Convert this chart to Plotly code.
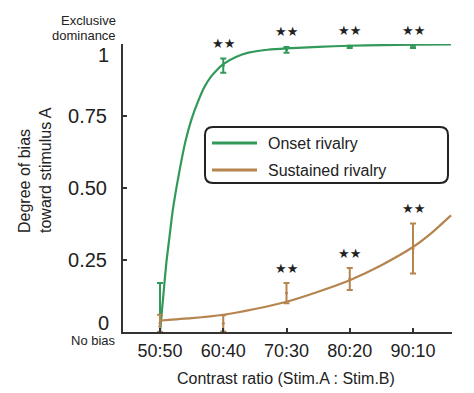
import plotly.graph_objects as go

# ---------------- data ----------------
categories = ["50:50", "60:40", "70:30", "80:20", "90:10"]

onset_mean = [0.02, 0.925, 0.98, 0.99, 0.99]
onset_err_plus = [0.15, 0.025, 0.01, 0.004, 0.004]
onset_err_minus = [0.02, 0.025, 0.01, 0.004, 0.004]

sustained_mean = [0.03, 0.03, 0.135, 0.184, 0.29]
sustained_err_plus = [0.03, 0.028, 0.035, 0.038, 0.087]
sustained_err_minus = [0.03, 0.028, 0.035, 0.038, 0.087]

# fitted curves (x in category steps from 50:50)
onset_fit_x = [0, 0.05, 0.1, 0.15, 0.2, 0.3, 0.4, 0.5, 0.6, 0.7, 0.8, 0.9, 1.0,
               1.2, 1.4, 1.7, 2.0, 2.5, 3.0, 3.5, 4.0, 4.6]
onset_fit_y = [0, 0.12, 0.24, 0.33, 0.42, 0.55, 0.66, 0.74, 0.80, 0.85, 0.885,
               0.91, 0.93, 0.955, 0.97, 0.98, 0.985, 0.99, 0.994, 0.996, 0.998, 0.999]

sustained_fit_x = [0, 0.5, 1.0, 1.5, 2.0, 2.5, 3.0, 3.5, 4.0, 4.3, 4.6]
sustained_fit_y = [0.04, 0.048, 0.06, 0.08, 0.105, 0.14, 0.18, 0.232, 0.295, 0.345, 0.405]

onset_sig = [False, True, True, True, True]
sustained_sig = [False, False, True, True, True]

y_tick_vals = [0, 0.25, 0.5, 0.75, 1]
y_tick_text = ["0", "0.25", "0.50", "0.75", "1"]

legend_names = ["Onset rivalry", "Sustained rivalry"]

# ---------------- style ----------------
GREEN = "#33995a"
BROWN = "#b5844f"
INK = "#222222"
FONT = "Liberation Sans, Arial, sans-serif"

W, H = 474, 393
ML, MR, MT, MB = 123, 22, 44, 61
PW, PH = W - ML - MR, H - MT - MB

def px_to_paper(px, py):
    return (px - ML) / PW, (H - MB - py) / PH

xs = list(range(len(categories)))

fig = go.Figure()

fig.add_trace(go.Scatter(x=onset_fit_x, y=onset_fit_y, mode="lines",
                         line=dict(color=GREEN, width=2.2, shape="spline", smoothing=0.6),
                         showlegend=False, cliponaxis=False, hoverinfo="skip"))
fig.add_trace(go.Scatter(x=sustained_fit_x, y=sustained_fit_y, mode="lines",
                         line=dict(color=BROWN, width=2.2, shape="spline", smoothing=0.6),
                         showlegend=False, cliponaxis=False, hoverinfo="skip"))

fig.add_trace(go.Scatter(x=xs, y=onset_mean, mode="markers",
                         marker=dict(color=GREEN, size=3),
                         error_y=dict(type="data", symmetric=False, array=onset_err_plus,
                                      arrayminus=onset_err_minus, color=GREEN,
                                      thickness=2, width=3),
                         showlegend=False, cliponaxis=False))
fig.add_trace(go.Scatter(x=xs, y=sustained_mean, mode="markers",
                         marker=dict(color=BROWN, size=3),
                         error_y=dict(type="data", symmetric=False, array=sustained_err_plus,
                                      arrayminus=sustained_err_minus, color=BROWN,
                                      thickness=2, width=3),
                         showlegend=False, cliponaxis=False))

annotations = []
STAR_FONT = dict(family="DejaVu Sans", size=13, color=INK)
for i in xs:
    if onset_sig[i]:
        annotations.append(dict(x=i, y=onset_mean[i] + onset_err_plus[i], text="★★",
                                showarrow=False, yshift=15, yanchor="middle", font=STAR_FONT))
    if sustained_sig[i]:
        annotations.append(dict(x=i, y=sustained_mean[i] + sustained_err_plus[i], text="★★",
                                showarrow=False, yshift=15, yanchor="middle", font=STAR_FONT))

# end tick labels "1" and "0" sit slightly inside the axis ends
ax, _ = px_to_paper(111, 0)
annotations.append(dict(xref="paper", x=ax, y=y_tick_vals[-1], text=y_tick_text[-1],
                        xanchor="right", yanchor="middle", yshift=-11, showarrow=False,
                        font=dict(family=FONT, size=20, color=INK)))
annotations.append(dict(xref="paper", x=ax, y=y_tick_vals[0], text=y_tick_text[0],
                        xanchor="right", yanchor="middle", yshift=9, showarrow=False,
                        font=dict(family=FONT, size=20, color=INK)))

# small end labels
ex, _ = px_to_paper(118, 0)
for txt, py in [("Exclusive", 21), ("dominance", 35), ("No bias", 340)]:
    _, yy = px_to_paper(0, py)
    annotations.append(dict(xref="paper", yref="paper", x=ex, y=yy, text=txt,
                            xanchor="right", yanchor="middle", showarrow=False,
                            font=dict(family=FONT, size=13, color=INK)))

# axis titles
tx, ty = px_to_paper(35, 170)
annotations.append(dict(xref="paper", yref="paper", x=tx, y=ty,
                        text="Degree of bias<br>toward stimulus A", textangle=-90,
                        align="left", xanchor="center", yanchor="middle", showarrow=False,
                        font=dict(family=FONT, size=16, color=INK)))
tx, ty = px_to_paper(286, 378)
annotations.append(dict(xref="paper", yref="paper", x=tx, y=ty,
                        text="Contrast ratio (Stim.A : Stim.B)",
                        xanchor="center", yanchor="middle", showarrow=False,
                        font=dict(family=FONT, size=16, color=INK)))

# manual legend
shapes = []
x0, y0 = px_to_paper(205, 183)
x1, y1 = px_to_paper(448, 127)
rx, ry = 8 / PW, 8 / PH
path = (f"M {x0+rx},{y0} L {x1-rx},{y0} Q {x1},{y0} {x1},{y0+ry} "
        f"L {x1},{y1-ry} Q {x1},{y1} {x1-rx},{y1} L {x0+rx},{y1} "
        f"Q {x0},{y1} {x0},{y1-ry} L {x0},{y0+ry} Q {x0},{y0} {x0+rx},{y0} Z")
shapes.append(dict(type="path", xref="paper", yref="paper", path=path,
                   line=dict(color=INK, width=2), fillcolor="white", layer="above"))
for name, col, py in [(legend_names[0], GREEN, 143), (legend_names[1], BROWN, 170)]:
    lx0, ly = px_to_paper(212, py)
    lx1, _ = px_to_paper(257, py)
    shapes.append(dict(type="line", xref="paper", yref="paper", x0=lx0, x1=lx1, y0=ly, y1=ly,
                       line=dict(color=col, width=3), layer="above"))
    tx, _ = px_to_paper(266, py)
    annotations.append(dict(xref="paper", yref="paper", x=tx, y=ly, text=name,
                            xanchor="left", yanchor="middle", showarrow=False,
                            font=dict(family=FONT, size=16, color=INK)))

x_left = (ML - 160) / 63.25
x_right = (ML + PW - 160) / 63.25

fig.update_layout(
    width=W, height=H,
    margin=dict(l=ML, r=MR, t=MT, b=MB, autoexpand=False),
    paper_bgcolor="white", plot_bgcolor="white",
    font=dict(family=FONT, color=INK),
    showlegend=False,
    annotations=annotations,
    shapes=shapes,
    xaxis=dict(range=[x_left, x_right], tickvals=xs, ticktext=categories,
               showgrid=False, zeroline=False, showline=True, linecolor="#333333",
               linewidth=2, ticks="inside", ticklen=4, tickwidth=1.5, tickcolor="#333333",
               tickfont=dict(family=FONT, size=18, color=INK), ticklabelstandoff=1,
               automargin=False),
    yaxis=dict(range=[0, 1], tickvals=y_tick_vals,
               ticktext=["", y_tick_text[1], y_tick_text[2], y_tick_text[3], ""],
               showgrid=False, zeroline=False, showline=True, linecolor="#333333",
               linewidth=2, ticks="inside", ticklen=4, tickwidth=1.5, tickcolor="#333333",
               tickfont=dict(family=FONT, size=20, color=INK), ticklabelstandoff=10,
               automargin=False),
)

fig.write_html("out.html", config={"displayModeBar": False},
               post_script="document.body.style.margin='0px';document.body.style.padding='0px';")
